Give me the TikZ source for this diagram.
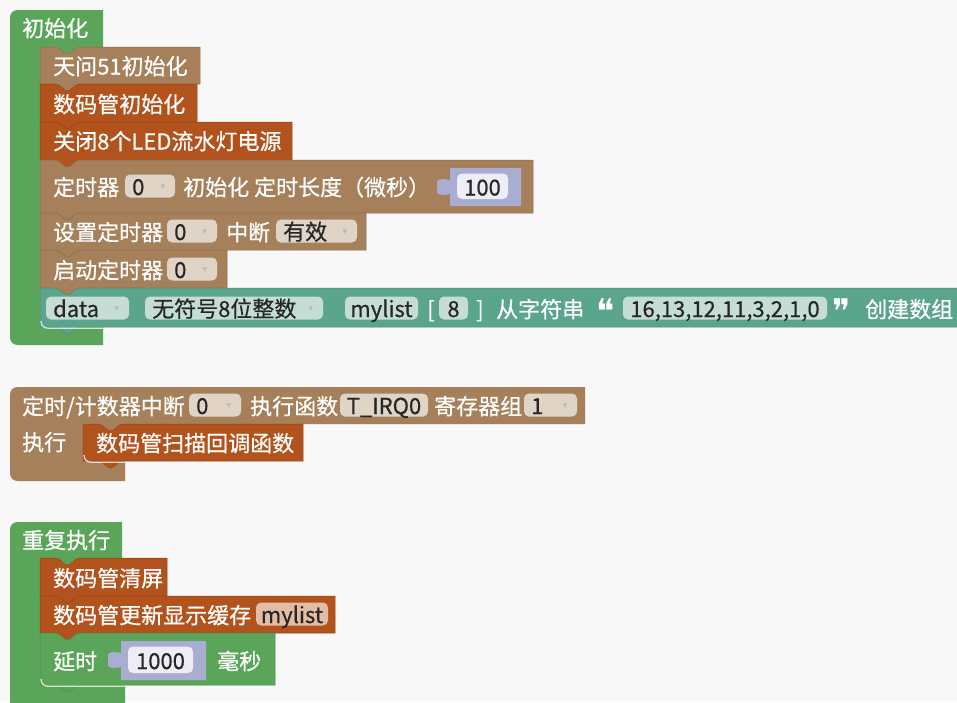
\documentclass[tikz,border=0pt]{standalone}
\usepackage{fontspec}
\newfontfamily\cjk[FakeBold=0.5]{Noto Sans CJK SC}
\newfontfamily\dejavu{DejaVu Sans}
\definecolor{loopg}{HTML}{5BA55B}
\definecolor{blktan}{HTML}{A5805B}
\definecolor{blkor}{HTML}{B2521C}
\definecolor{blkteal}{HTML}{5BA58C}
\definecolor{sock}{HTML}{A9ADD1}
\definecolor{ftan}{HTML}{E0D4C7}
\definecolor{fteal}{HTML}{C5DDD4}
\definecolor{foran}{HTML}{E3BCA6}
\definecolor{fnum}{HTML}{EDEEF5}
\definecolor{bgc}{HTML}{F8F8F8}
\tikzset{
  lbl/.style={anchor=west, inner sep=0pt, text=white, font=\cjk\fontsize{22}{26}\selectfont, text height=17pt, text depth=0pt},
  fv/.style={anchor=west, inner sep=0pt, text=black!85, font=\cjk\fontsize{22}{26}\selectfont, text height=17pt, text depth=0pt},
  arr/.style={anchor=center, inner sep=0pt, text=black!28, font=\dejavu\fontsize{9}{10}\selectfont},
  qt/.style={anchor=center, inner sep=0pt, text=white, font=\dejavu\fontsize{34}{38}\selectfont},
  hl/.style={white, opacity=0.75, line width=1.3pt},
}
% statement block: left, top, right, bottom, colour
\newcommand\stmtblock[5]{%
  \filldraw[fill=#5, draw=#5!85!black, line width=0.5pt]
    (#1,#2) -- ({#1+15},#2) .. controls ({#1+21},#2) and ({#1+23},{#2+7}) .. ({#1+27.5},{#2+7})
    .. controls ({#1+32},{#2+7}) and ({#1+34},#2) .. ({#1+40},#2) -- (#3,#2) -- (#3,#4)
    -- ({#1+40},#4) .. controls ({#1+34},#4) and ({#1+32},{#4+7}) .. ({#1+27.5},{#4+7})
    .. controls ({#1+23},{#4+7}) and ({#1+21},#4) .. ({#1+15},#4) -- (#1,#4) -- cycle;}
% dropdown: name, x1, x2, yc, text, fill
\newcommand\ddbox[6]{%
  \fill[#6, rounded corners=5pt] (#2,{#4-11.5}) rectangle (#3,{#4+11.5});
  \node[fv] (#1) at ({#2+7},{#4+0.5}) {#5};
  \node[arr] (#1a) at ({#3-12},{#4+1}) {▾};}
% plain field: name, x1, x2, yc, text, fill
\newcommand\fldbox[6]{%
  \fill[#6, rounded corners=5pt] (#2,{#4-11.5}) rectangle (#3,{#4+11.5});
  \node[fv, anchor=center] (#1) at ({(#2+#3)/2},{#4+0.5}) {#5};}
% value socket: name, x1, x2, y1, y2, text
\newcommand\sockbox[6]{%
  \fill[sock] (#2,#4) -- (#3,#4) -- (#3,#5) -- (#2,#5) -- (#2,{#4+26})
    .. controls ({#2-4},{#4+27}) and ({#2-13},{#4+28}) .. ({#2-13},{#4+24})
    -- ({#2-13},{#4+14})
    .. controls ({#2-13},{#4+10}) and ({#2-4},{#4+11}) .. (#2,{#4+12}) -- cycle;
  \fill[fnum, rounded corners=5pt] ({#2+7},{#4+5.5}) rectangle ({#3-13},{#5-7});
  \node[fv, anchor=center] (#1) at ({(#2+#3)/2-3},{(#4+#5)/2}) {#6};}
\begin{document}
\begin{tikzpicture}[x=1pt,y=-1pt]
\useasboundingbox (0,0) rectangle (957,702);
\fill[bgc] (0,0) rectangle (957,702);
\clip (0,0) rectangle (957,702);

% ===== block 1: 初始化 =====
\fill[loopg] (10,18) .. controls (10,13) and (13,10) .. (18,10) -- (103,10) -- (103,47)
  -- (80,47) .. controls (74,47) and (72,54) .. (67.5,54) .. controls (63,54) and (61,47) .. (55,47)
  -- (40,47) -- (40,327) -- (103,327) -- (103,345) -- (18,345) .. controls (13,345) and (10,342) .. (10,337) -- cycle;
\node[lbl] (init) at (22,28) {初始化};

\stmtblock{40}{47}{200}{84}{blktan}
\node[lbl] (tw) at (53,66) {天问51初始化};
\stmtblock{40}{84}{197}{122}{blkor}
\node[lbl] (smginit) at (53,104) {数码管初始化};
\stmtblock{40}{122}{292}{160}{blkor}
\node[lbl] (led) at (53,141) {关闭8个LED流水灯电源};
\stmtblock{40}{160}{533}{213}{blktan}
\node[lbl] (tmr) at (53,187) {定时器};
\ddbox{tmrn}{125}{175}{186}{0}{ftan}
\node[lbl] (tmrlen) at (183,187) {初始化 定时长度（微秒）};
\sockbox{v100}{450}{521}{168}{206}{100}
\stmtblock{40}{213}{366}{250}{blktan}
\node[lbl] (settmr) at (53,232) {设置定时器};
\ddbox{setn}{167}{217}{231}{0}{ftan}
\node[lbl] (zd) at (226,232) {中断};
\ddbox{yx}{276}{357}{231}{有效}{ftan}
\stmtblock{40}{250}{227}{288}{blktan}
\node[lbl] (start) at (53,270) {启动定时器};
\ddbox{startn}{167}{217}{269}{0}{ftan}
\stmtblock{40}{288}{975}{327}{blkteal}
\ddbox{dtype}{46}{129}{308}{data}{fteal}
\ddbox{utype}{145}{323}{308}{无符号8位整数}{fteal}
\fldbox{lname}{345}{418}{308}{mylist}{fteal}
\node[lbl] (lbr) at (427,309) {[};
\fldbox{lsize}{439}{468}{308}{8}{fteal}
\node[lbl] (rbr) at (476,309) {]};
\node[lbl] (fromstr) at (496,309) {从字符串};
\node[qt] (oq) at (606,311) {❝};
\fldbox{lstr}{623}{827}{308}{16,13,12,11,3,2,1,0}{fteal}
\node[qt] (cq) at (842,311) {❞};
\node[lbl] (mk) at (865,309) {创建数组};
\draw[hl] (41,321) .. controls (41,325) and (43.5,328.2) .. (48,328.2) -- (103,328.2);

% ===== block 2: 定时/计数器中断 =====
\fill[blktan] (10,395) .. controls (10,390) and (13,387) .. (18,387) -- (585,387) -- (585,424)
  -- (123,424) .. controls (117,424) and (115,431) .. (110.5,431) .. controls (106,431) and (104,424) .. (98,424)
  -- (83,424) -- (83,461) -- (125,461) -- (125,481) -- (18,481) .. controls (13,481) and (10,478) .. (10,473) -- cycle;
\node[lbl] (irq) at (22,406) {定时/计数器中断};
\ddbox{irqn}{189}{241}{405}{0}{ftan}
\node[lbl] (exf) at (250,406) {执行函数};
\fldbox{fname}{340}{428}{405}{T\_IRQ0}{ftan}
\node[lbl] (reg) at (434,406) {寄存器组};
\ddbox{regn}{524}{577}{405}{1}{ftan}
\node[lbl] (do1) at (22,442) {执行};
\stmtblock{83}{424}{303}{461}{blkor}
\node[lbl] (scan) at (96,443) {数码管扫描回调函数};
\draw[hl] (84,455) .. controls (84,459) and (86.5,462.2) .. (91,462.2) -- (125,462.2);

% ===== block 3: 重复执行 =====
\fill[loopg] (10,530) .. controls (10,525) and (13,522) .. (18,522) -- (122,522) -- (122,558)
  -- (80,558) .. controls (74,558) and (72,565) .. (67.5,565) .. controls (63,565) and (61,558) .. (55,558)
  -- (40,558) -- (40,685) -- (125,685) -- (125,712) -- (10,712) -- cycle;
\node[lbl] (rep) at (22,540) {重复执行};
\stmtblock{40}{558}{167}{596}{blkor}
\node[lbl] (clr) at (53,578) {数码管清屏};
\stmtblock{40}{596}{335}{633}{blkor}
\node[lbl] (upd) at (53,615) {数码管更新显示缓存};
\fldbox{upl}{256}{328}{614}{mylist}{foran}
\stmtblock{40}{633}{275}{685}{loopg}
\node[lbl] (dly) at (53,661) {延时};
\sockbox{v1000}{121}{206}{641}{680}{1000}
\node[lbl] (ms) at (217,661) {毫秒};
\draw[hl] (41,679) .. controls (41,683) and (43.5,686.2) .. (48,686.2) -- (125,686.2);
\end{tikzpicture}
\end{document}
